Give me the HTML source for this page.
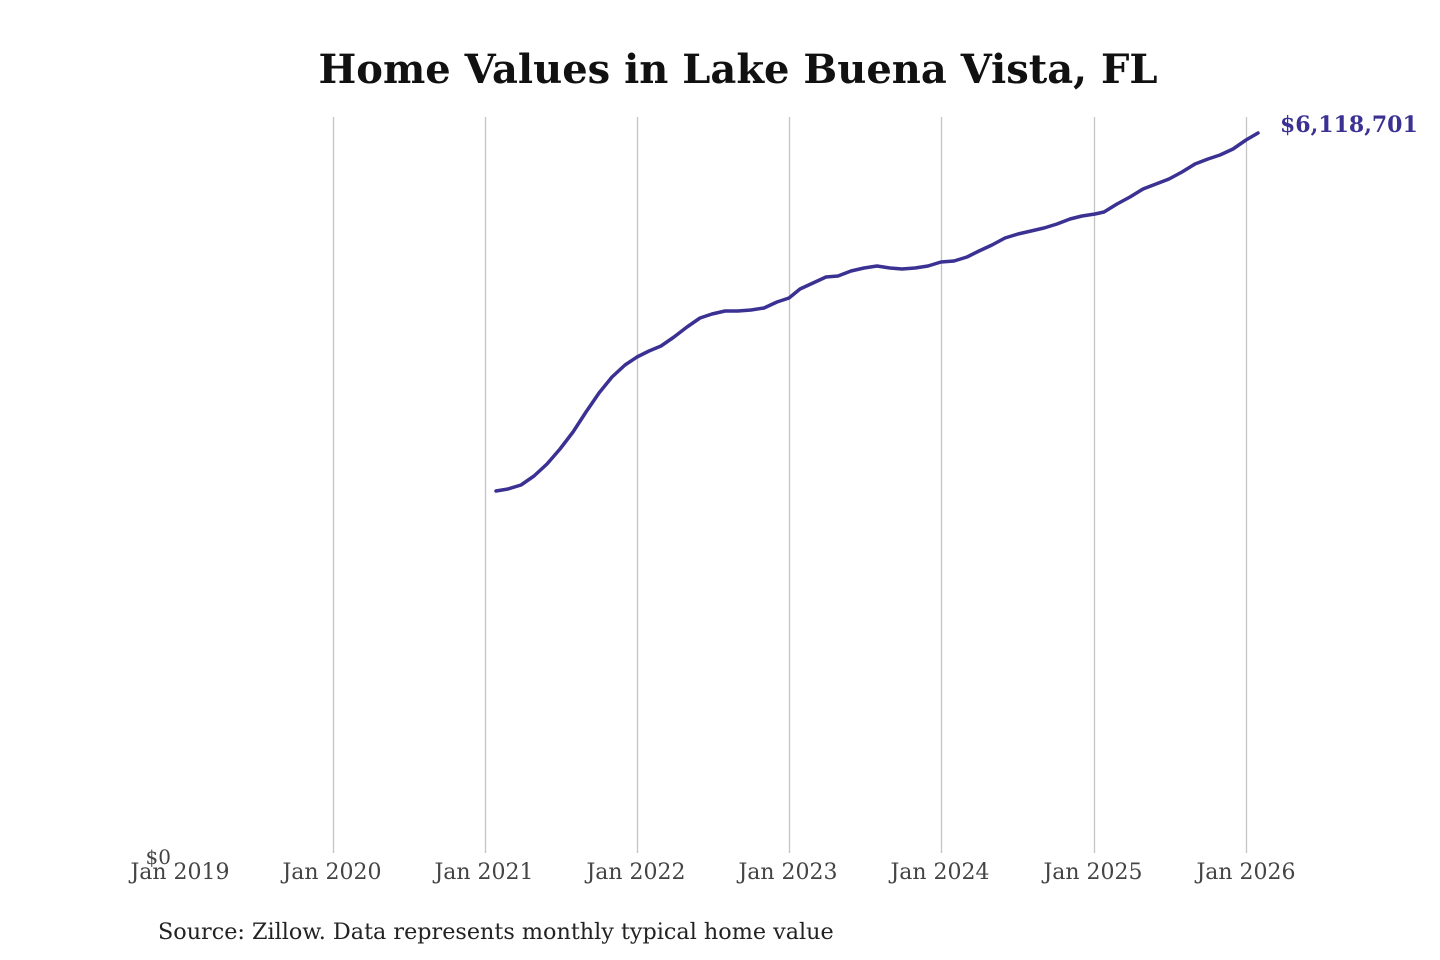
<!DOCTYPE html>
<html><head><style>
html,body{margin:0;padding:0;background:#fff;width:1440px;height:960px;overflow:hidden}
</style></head><body>
<svg width="1440" height="960" viewBox="0 0 1440 960" xmlns="http://www.w3.org/2000/svg">
<text x="738" y="83" text-anchor="middle" font-family="DejaVu Serif, serif" font-weight="bold" font-size="40" fill="#111">Home Values in Lake Buena Vista, FL</text>
<g stroke="#c4c4c4" stroke-width="1.3">
<line x1="333.5" y1="117" x2="333.5" y2="853"/>
<line x1="485.5" y1="117" x2="485.5" y2="853"/>
<line x1="637.5" y1="117" x2="637.5" y2="853"/>
<line x1="789.5" y1="117" x2="789.5" y2="853"/>
<line x1="941.5" y1="117" x2="941.5" y2="853"/>
<line x1="1094.5" y1="117" x2="1094.5" y2="853"/>
<line x1="1246.5" y1="117" x2="1246.5" y2="853"/>
</g>
<g font-family="DejaVu Serif, serif" font-size="22" fill="#444" text-anchor="middle">
<text x="180" y="879">Jan 2019</text>
<text x="332" y="879">Jan 2020</text>
<text x="484" y="879">Jan 2021</text>
<text x="636" y="879">Jan 2022</text>
<text x="788" y="879">Jan 2023</text>
<text x="940" y="879">Jan 2024</text>
<text x="1093" y="879">Jan 2025</text>
<text x="1246" y="879">Jan 2026</text>
</g>
<text x="171" y="864" text-anchor="end" font-family="DejaVu Serif, serif" font-size="20" fill="#444">$0</text>
<polyline fill="none" stroke="#3a3193" stroke-width="3.5" stroke-linejoin="round" stroke-linecap="round" points="496,491 508,489 521,485 534,476 547,464 560,449 573,432 586,412 599,393 612,377 625,365 637,357 649,351 661,346 674,337 687,327 700,318 712,314 725,311 738,311 751,310 764,308 777,302 789,298 800,289 813,283 826,277 838,276 851,271 864,268 877,266 890,268 902,269 915,268 928,266 941,262 954,261 967,257 979,251 992,245 1005,238 1018,234 1031,231 1044,228 1057,224 1070,219 1082,216 1095,214 1104,212 1117,204 1130,197 1143,189 1156,184 1169,179 1182,172 1195,164 1208,159 1220,155 1233,149 1246,140 1258,133"/>
<text x="1280" y="132" font-family="DejaVu Serif, serif" font-weight="bold" font-size="22" fill="#3a3193">$6,118,701</text>
<text x="158" y="939" font-family="DejaVu Serif, serif" font-size="22.3" fill="#222">Source: Zillow. Data represents monthly typical home value</text>
</svg>
</body></html>
